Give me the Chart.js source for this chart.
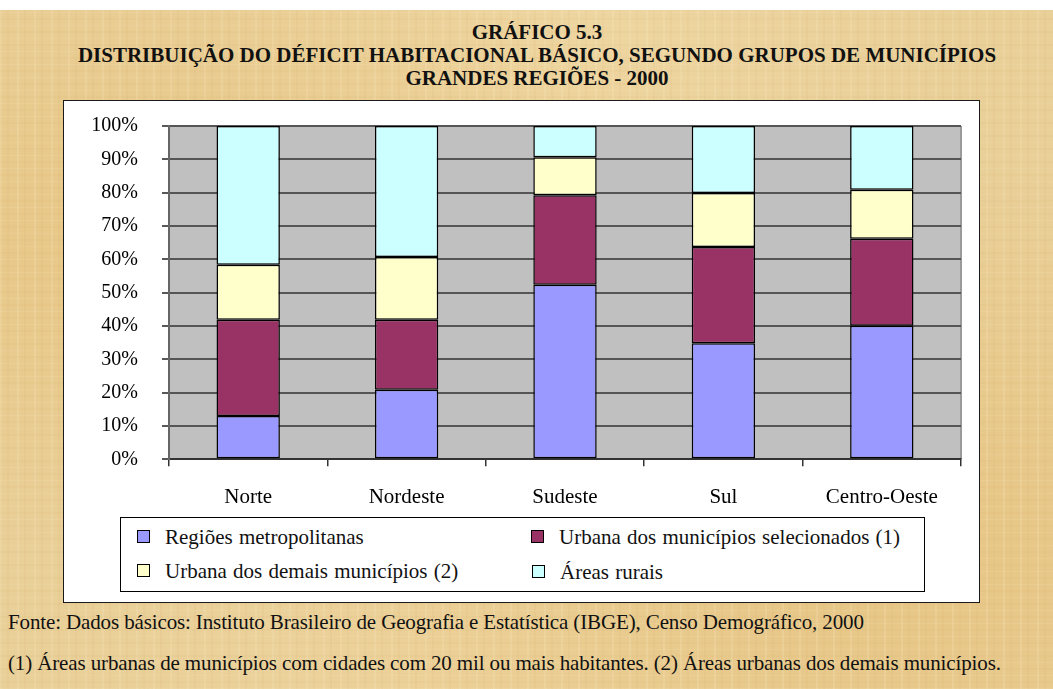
<!DOCTYPE html>
<html lang="pt-BR">
<head>
<meta charset="utf-8">
<title>Gráfico 5.3 - Déficit habitacional básico</title>
<script src="https://cdn.jsdelivr.net/npm/chart.js@4.4.1/dist/chart.umd.min.js"></script>
<style>
  html, body { margin: 0; padding: 0; }
  body {
    width: 1053px;
    height: 689px;
    overflow: hidden;
    position: relative;
    font-family: 'Liberation Serif', 'Times New Roman', serif;
    color: #111;
    background-color: #e9cf98;
    background-image:
      repeating-linear-gradient(90deg, rgba(255, 246, 214, 0.14) 0 2px, transparent 2px 7px, rgba(200, 155, 80, 0.07) 7px 9px, transparent 9px 17px),
      repeating-linear-gradient(0deg, rgba(255, 242, 205, 0.10) 0 1px, transparent 1px 6px, rgba(190, 145, 70, 0.05) 6px 8px, transparent 8px 13px),
      radial-gradient(ellipse at 15% 35%, rgba(230, 188, 110, 0.40), transparent 50%),
      radial-gradient(ellipse at 85% 80%, rgba(228, 184, 104, 0.40), transparent 50%),
      radial-gradient(ellipse at 55% 8%, rgba(244, 222, 172, 0.45), transparent 45%),
      radial-gradient(ellipse at 40% 98%, rgba(240, 214, 160, 0.45), transparent 40%);
  }
  .top-strip { position: absolute; left: 0; top: 0; width: 1053px; height: 10px; background: #fff; }
  .title-line {
    position: absolute;
    left: 0;
    width: 1074px;
    text-align: center;
    font-weight: bold;
    font-size: 21px;
    line-height: 24px;
    white-space: nowrap;
  }
  .frame {
    position: absolute;
    left: 63px;
    top: 100px;
    width: 915px;
    height: 501px;
    background: #fff;
    border: 1.5px solid #1a1a1a;
  }
  /* the y scale keeps ~36px above the plot, so the canvas starts above the frame top */
  .chart-wrap { position: absolute; left: 64px; top: 90px; width: 915px; height: 443px; }
  .legend-box {
    position: absolute;
    left: 120px;
    top: 517px;
    width: 803px;
    height: 73px;
    border: 1.5px solid #000;
    background: #fff;
  }
  .legend-item {
    position: absolute;
    height: 24px;
    line-height: 24px;
    font-size: 21px;
    white-space: nowrap;
  }
  .legend-item .swatch {
    position: absolute;
    left: 0;
    top: 5px;
    width: 11px;
    height: 11px;
    border: 1.5px solid #000;
  }
  .legend-item .text { position: absolute; left: 28px; top: 0; word-spacing: 1px; }
  .note {
    position: absolute;
    left: 8px;
    font-size: 21px;
    line-height: 24px;
    letter-spacing: -0.13px;
    white-space: nowrap;
  }
</style>
</head>
<body>
<div class="top-strip"></div>
<div class="title-line" style="top:20px">GRÁFICO 5.3</div>
<div class="title-line" style="top:43px">DISTRIBUIÇÃO DO DÉFICIT HABITACIONAL BÁSICO, SEGUNDO GRUPOS DE MUNICÍPIOS</div>
<div class="title-line" style="top:66px">GRANDES REGIÕES - 2000</div>

<div class="frame"></div>
<div class="chart-wrap"><canvas id="deficitChart"></canvas></div>
<div class="legend-box" id="legendBox"></div>

<div class="note" style="top:610px">Fonte: Dados básicos: Instituto Brasileiro de Geografia e Estatística (IBGE), Censo Demográfico, 2000</div>
<div class="note" style="top:651px">(1) Áreas urbanas de municípios com cidades com 20 mil ou mais habitantes. (2) Áreas urbanas dos demais municípios.</div>

<script>
  'use strict';

  /**
   * Data (percent of the basic housing deficit)
   */
  const REGIONS = ['Norte', 'Nordeste', 'Sudeste', 'Sul', 'Centro-Oeste'];
  const SERIES_LABELS = [
    'Regiões metropolitanas',
    'Urbana dos municípios selecionados (1)',
    'Urbana dos demais municípios (2)',
    'Áreas rurais',
  ];
  const METROPOLITANAS = [13.0, 20.9, 52.4, 34.8, 40.1];
  const URBANA_SELECIONADOS = [28.9, 21.0, 26.8, 28.9, 26.1];
  const URBANA_DEMAIS = [16.5, 18.8, 11.4, 16.2, 14.7];
  const AREAS_RURAIS = [41.6, 39.3, 9.4, 20.1, 19.1];
  const Y_TICKS = [0, 10, 20, 30, 40, 50, 60, 70, 80, 90, 100];

  const SERIES_VALUES = [METROPOLITANAS, URBANA_SELECIONADOS, URBANA_DEMAIS, AREAS_RURAIS];
  const SERIES_COLORS = ['#9999ff', '#993366', '#ffffcc', '#ccffff'];

  const SERIF = "'Liberation Serif', 'Times New Roman', serif";
  Chart.defaults.font.family = SERIF;
  Chart.defaults.color = '#000';

  /**
   * Grey plot background + light right edge, like the old spreadsheet chart
   */
  const plotBackground = {
    id: 'plotBackground',
    beforeDraw(chart) {
      const { ctx, chartArea: a } = chart;
      ctx.save();
      ctx.fillStyle = '#c0c0c0';
      ctx.fillRect(a.left, a.top, a.right - a.left, a.bottom - a.top);
      ctx.strokeStyle = '#9a9a9a';
      ctx.lineWidth = 2;
      ctx.beginPath();
      ctx.moveTo(a.right, a.top);
      ctx.lineTo(a.right, a.bottom);
      ctx.stroke();
      ctx.restore();
    },
  };

  const datasets = SERIES_LABELS.map((label, i) => ({
    label,
    data: SERIES_VALUES[i],
    backgroundColor: SERIES_COLORS[i],
    borderColor: '#000',
    borderWidth: 1.5,
    borderSkipped: false,
    categoryPercentage: 1,
    barPercentage: 0.4,
  }));

  const chart = new Chart(document.getElementById('deficitChart'), {
    type: 'bar',
    data: { labels: REGIONS, datasets },
    plugins: [plotBackground],
    options: {
      responsive: true,
      maintainAspectRatio: false,
      animation: false,
      layout: { padding: { top: 14, right: 18, bottom: 3.5, left: 0 } },
      plugins: {
        legend: { display: false },
        tooltip: { enabled: false },
      },
      scales: {
        x: {
          stacked: true,
          grid: {
            offset: true,
            drawOnChartArea: false,
            drawTicks: true,
            tickLength: 7,
            color: '#333',
            lineWidth: 1.5,
          },
          border: { color: '#333', width: 2 },
          ticks: { padding: 19, font: { size: 21 }, color: '#000' },
        },
        y: {
          stacked: true,
          min: 0,
          max: 100,
          afterBuildTicks(scale) {
            scale.ticks = Y_TICKS.map((v) => ({ value: v }));
          },
          afterFit(scale) {
            scale.width = 105;
          },
          grid: {
            color: '#555',
            lineWidth: 2,
            tickLength: 7,
            tickColor: '#222',
            tickWidth: 1.5,
          },
          border: { color: '#666', width: 2 },
          ticks: {
            padding: 24,
            font: { size: 20 },
            color: '#000',
            callback: (v) => v + '%',
          },
        },
      },
    },
  });

  /**
   * Two-column legend box, built from the chart's datasets
   */
  (function buildLegend() {
    const box = document.getElementById('legendBox');
    const slots = [
      { left: 16, top: 7 },
      { left: 410, top: 7 },
      { left: 16, top: 41 },
      { left: 411, top: 42 },
    ];
    chart.data.datasets.forEach((ds, i) => {
      const item = document.createElement('div');
      item.className = 'legend-item';
      item.style.left = slots[i].left + 'px';
      item.style.top = slots[i].top + 'px';
      const swatch = document.createElement('span');
      swatch.className = 'swatch';
      swatch.style.background = ds.backgroundColor;
      const text = document.createElement('span');
      text.className = 'text';
      text.textContent = ds.label;
      item.appendChild(swatch);
      item.appendChild(text);
      box.appendChild(item);
    });
  })();
</script>
</body>
</html>
